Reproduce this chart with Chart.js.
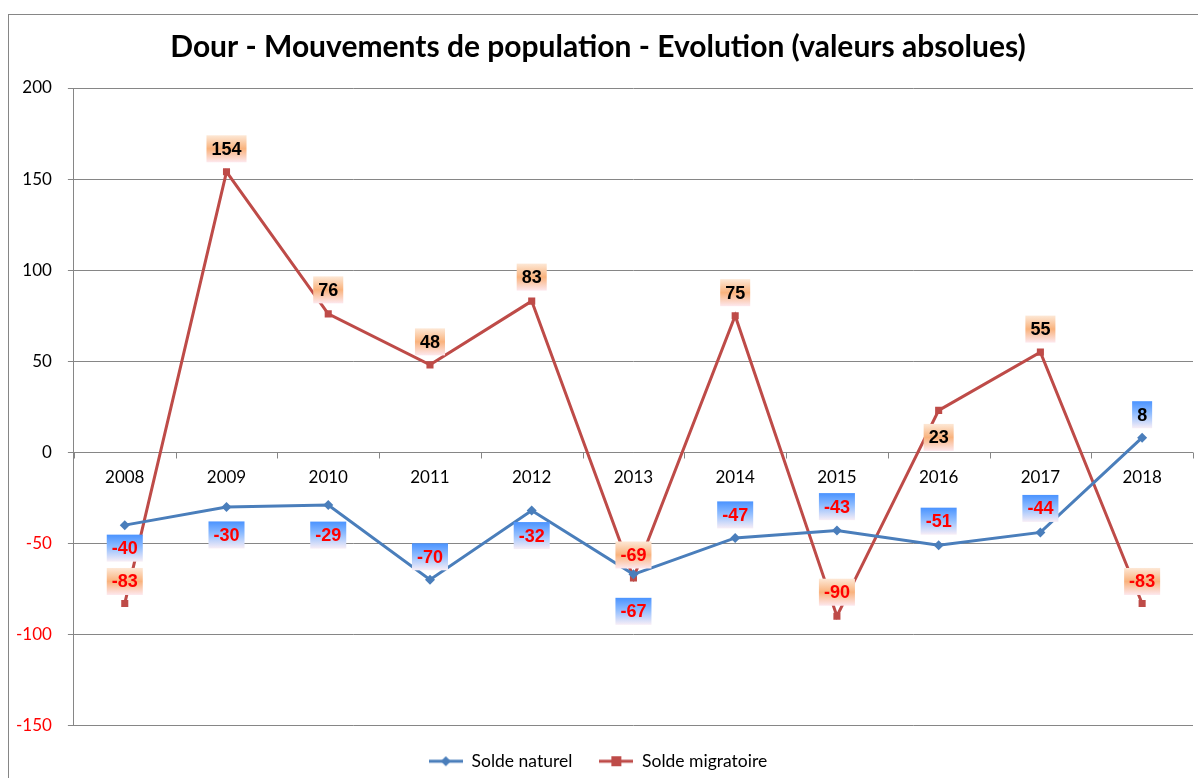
<!DOCTYPE html>
<html>
<head>
<meta charset="utf-8">
<script src="https://cdn.jsdelivr.net/npm/chart.js@4.4.0/dist/chart.umd.min.js"></script>
<style>
html, body { margin: 0; padding: 0; background: #fff; }
#wrap { width: 1198px; height: 778px; }
</style>
</head>
<body>
<div id="wrap"><canvas id="myChart"></canvas></div>
<script>
// donnees
var annees = ['2008', '2009', '2010', '2011', '2012', '2013', '2014', '2015', '2016', '2017', '2018'];
var soldeNaturel = [-40, -30, -29, -70, -32, -67, -47, -43, -51, -44, 8];
var soldeMigratoire = [-83, 154, 76, 48, 83, -69, 75, -90, 23, 55, -83];
var yTicks = [-150, -100, -50, 0, 50, 100, 150, 200];

// decalage vertical des etiquettes (px, negatif = au-dessus)
var decalNaturel = [23, 28, 30, -23, 25, 37, -23, -24, -24, -24, -23];
var decalMigratoire = [-22, -23, -24, -23, -24, -23, -23, -24, 27, -23, -22];

var bleu = '#4a7ebb';
var rouge = '#be4b48';
var gris = '#868686';

function iconeLegende(couleur, forme) {
  var c = document.createElement('canvas');
  c.width = 34; c.height = 12;
  var g = c.getContext('2d');
  g.strokeStyle = couleur; g.lineWidth = 3;
  g.beginPath(); g.moveTo(0, 6); g.lineTo(34, 6); g.stroke();
  g.fillStyle = couleur;
  if (forme === 'carre') {
    g.fillRect(12, 1, 10, 10);
  } else {
    g.beginPath(); g.moveTo(17, 1); g.lineTo(22, 6); g.lineTo(17, 11); g.lineTo(12, 6); g.closePath(); g.fill();
  }
  return c;
}

var cadre = {
  id: 'cadre',
  beforeDraw: function (chart) {
    var c = chart.ctx;
    c.save();
    c.fillStyle = '#fff';
    c.fillRect(0, 0, chart.width, chart.height);
    c.strokeStyle = gris; c.lineWidth = 1;
    c.strokeRect(8.5, 14.5, chart.width + 20, chart.height + 20);
    c.restore();
  }
};

// annees ecrites sur la ligne du zero
var axeZero = {
  id: 'axeZero',
  beforeDatasetsDraw: function (chart) {
    var c = chart.ctx, x = chart.scales.x, y = chart.scales.y;
    var y0 = Math.round(y.getPixelForValue(0)) + 0.5;
    c.save();
    c.strokeStyle = gris; c.lineWidth = 1;
    c.beginPath();
    c.moveTo(chart.chartArea.left, y0); c.lineTo(chart.chartArea.right, y0);
    var pas = (chart.chartArea.right - chart.chartArea.left) / annees.length;
    for (var i = 0; i <= annees.length; i++) {
      var xt = Math.round(chart.chartArea.left + i * pas) + 0.5;
      c.moveTo(xt, y0); c.lineTo(xt, y0 + 6);
    }
    c.stroke();
    c.fillStyle = '#000';
    c.font = '17px Lato';
    c.textAlign = 'center'; c.textBaseline = 'middle';
    annees.forEach(function (a, i) {
      c.fillText(a, x.getPixelForValue(i), y0 + 25);
    });
    c.restore();
  }
};

var etiquettes = {
  id: 'etiquettes',
  afterDatasetsDraw: function (chart) {
    var c = chart.ctx;
    c.save();
    c.font = 'bold 18px "Liberation Sans"';
    c.textAlign = 'center'; c.textBaseline = 'middle';
    chart.data.datasets.forEach(function (ds, di) {
      var meta = chart.getDatasetMeta(di);
      var decal = di === 0 ? decalNaturel : decalMigratoire;
      meta.data.forEach(function (pt, i) {
        var v = ds.data[i];
        var txt = String(v);
        var w = c.measureText(txt).width + 10;
        var h = 27;
        var cx = pt.x, cy = pt.y + decal[i];
        var x0 = cx - w / 2, y0 = cy - h / 2;
        var gr = c.createLinearGradient(0, y0, 0, y0 + h);
        if (di === 0) {
          gr.addColorStop(0, '#4a93ff');
          gr.addColorStop(0.45, '#8ebcff');
          gr.addColorStop(1, '#f8eef6');
        } else {
          gr.addColorStop(0, '#fde8d6');
          gr.addColorStop(0.5, '#f9b27c');
          gr.addColorStop(1, '#fde8ee');
        }
        c.fillStyle = gr;
        c.fillRect(x0, y0, w, h);
        c.fillStyle = v < 0 ? '#ff0000' : '#000';
        c.fillText(txt, cx, cy + 1);
      });
    });
    c.restore();
  }
};

var ctx = document.getElementById('myChart').getContext('2d');
var graphique = new Chart(ctx, {
  type: 'line',
  data: {
    labels: annees,
    datasets: [
      {
        label: 'Solde naturel',
        data: soldeNaturel,
        borderColor: bleu,
        backgroundColor: bleu,
        borderWidth: 3,
        pointStyle: 'rectRot',
        pointRadius: 5,
        pointBorderWidth: 0,
        tension: 0
      },
      {
        label: 'Solde migratoire',
        data: soldeMigratoire,
        borderColor: rouge,
        backgroundColor: rouge,
        borderWidth: 3,
        pointStyle: 'rect',
        pointRadius: 5,
        pointBorderWidth: 0,
        tension: 0
      }
    ]
  },
  options: {
    responsive: true,
    maintainAspectRatio: false,
    animation: false,
    layout: { padding: { left: 0, right: 2, top: 0, bottom: -2 } },
    plugins: {
      title: {
        display: true,
        text: 'Dour - Mouvements de population - Evolution (valeurs absolues)',
        color: '#000',
        font: { family: 'Lato', size: 30, weight: 'bold' },
        padding: { top: 29, bottom: 23 }
      },
      legend: {
        position: 'bottom',
        labels: {
          color: '#000',
          font: { family: 'Lato', size: 17.5 },
          usePointStyle: true,
          pointStyleWidth: 34,
          padding: 27,
          generateLabels: function (chart) {
            return chart.data.datasets.map(function (ds, i) {
              return {
                text: ds.label,
                pointStyle: iconeLegende(ds.borderColor, i === 0 ? 'losange' : 'carre'),
                fillStyle: ds.borderColor,
                strokeStyle: ds.borderColor,
                lineWidth: 0,
                fontColor: '#000',
                datasetIndex: i
              };
            });
          }
        }
      },
      tooltip: { enabled: false }
    },
    scales: {
      x: {
        display: false,
        offset: true
      },
      y: {
        min: yTicks[0],
        max: yTicks[yTicks.length - 1],
        afterBuildTicks: function (axis) {
          axis.ticks = yTicks.map(function (v) { return { value: v }; });
        },
        grid: { color: gris, tickLength: 6, tickColor: gris },
        border: { display: true, color: gris },
        ticks: {
          padding: 16,
          font: { family: 'Lato', size: 17 },
          color: function (c) { return c.tick.value < 0 ? '#ff0000' : '#000'; }
        }
      }
    }
  },
  plugins: [cadre, axeZero, etiquettes]
});
</script>
</body>
</html>
